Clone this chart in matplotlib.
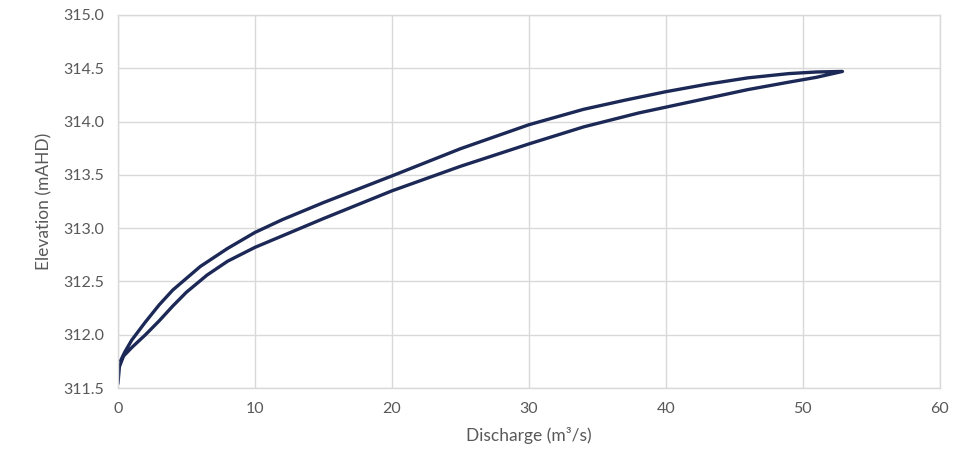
import matplotlib.pyplot as plt
import numpy as np

# rising limb (lower curve)
q_low = [0.0, 0.1, 0.4, 1.0, 2.0, 3.0, 4.0, 5.0, 6.5, 8.0, 10.0, 15.0, 20.0, 25.0,
         30.0, 34.0, 38.0, 42.0, 46.0, 49.0, 51.0, 52.9]
h_low = [311.55, 311.70, 311.80, 311.88, 312.00, 312.13, 312.27, 312.40, 312.56, 312.69,
         312.82, 313.09, 313.35, 313.58, 313.79, 313.95, 314.08, 314.19, 314.30, 314.37,
         314.415, 314.47]

# falling limb (upper curve), from the tip back to zero
q_up = [52.9, 51.0, 49.0, 46.0, 43.0, 40.0, 37.0, 34.0, 30.0, 25.0, 20.0, 15.0, 12.0,
        10.0, 8.0, 6.0, 4.0, 3.0, 2.0, 1.0, 0.5, 0.2]
h_up = [314.47, 314.465, 314.45, 314.41, 314.35, 314.28, 314.20, 314.115, 313.97, 313.745,
        313.49, 313.24, 313.08, 312.96, 312.81, 312.64, 312.42, 312.28, 312.12, 311.95,
        311.84, 311.76]

discharge = q_low + q_up
elevation = h_low + h_up

line_color = '#1c2957'
grid_color = '#d9d9d9'
text_color = '#595959'

plt.rcParams['font.family'] = ['Lato', 'DejaVu Sans']

fig = plt.figure(figsize=(9.55, 4.67), dpi=100)
ax = fig.add_axes([0.1236, 0.169, 0.8604, 0.799])

ax.plot(discharge, elevation, color=line_color, linewidth=2.4, solid_joinstyle='round')

ax.set_xlim(0, 60)
ax.set_ylim(311.5, 315.0)
ax.set_xticks(np.arange(0, 61, 10))
ax.set_yticks(np.arange(311.5, 315.01, 0.5))
ax.yaxis.set_major_formatter(plt.FormatStrFormatter('%.1f'))

ax.grid(True, color=grid_color, linewidth=1)
ax.set_axisbelow(True)
for side in ax.spines.values():
    side.set_color(grid_color)
    side.set_linewidth(1)
ax.tick_params(length=0, labelsize=11.5, colors=text_color, pad=10)

ax.set_xlabel('Discharge (m³/s)', fontsize=12.5, color=text_color, labelpad=8)
ax.set_ylabel('Elevation (mAHD)', fontsize=12.5, color=text_color, labelpad=8)

fig.savefig('out.png', dpi=100)
